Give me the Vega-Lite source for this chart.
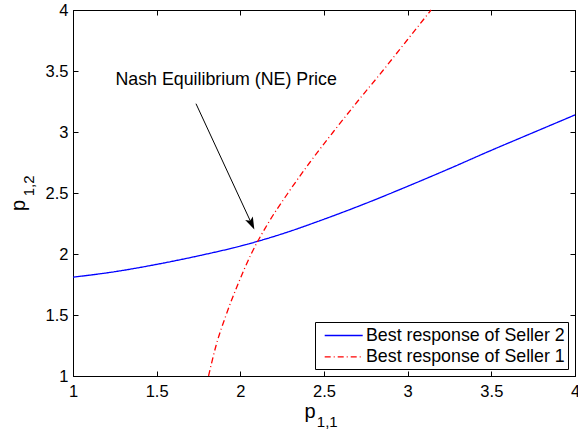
{
  "$schema": "https://vega.github.io/schema/vega-lite/v6.json",
  "width": 502,
  "height": 366,
  "autosize": {"type": "none"},
  "padding": {"left": 73, "top": 10, "right": 3, "bottom": 63},
  "background": "white",
  "config": {
    "font": "Liberation Sans",
    "view": {"stroke": "black", "strokeWidth": 1},
    "axis": {
      "grid": false,
      "domainColor": "black",
      "tickColor": "black",
      "labelColor": "black",
      "labelFontSize": 16.5,
      "labelFont": "Liberation Sans",
      "tickSize": -5,
      "labelFlush": false,
      "labelOverlap": false,
      "domainWidth": 1,
      "tickWidth": 1
    }
  },
  "datasets": {
    "curves": [
      {"series": "Best response of Seller 2", "x": 1.0, "y": 1.81, "k": 0},
      {"series": "Best response of Seller 2", "x": 1.25, "y": 1.855, "k": 1},
      {"series": "Best response of Seller 2", "x": 1.5, "y": 1.915, "k": 2},
      {"series": "Best response of Seller 2", "x": 1.75, "y": 1.985, "k": 3},
      {"series": "Best response of Seller 2", "x": 2.0, "y": 2.065, "k": 4},
      {"series": "Best response of Seller 2", "x": 2.25, "y": 2.165, "k": 5},
      {"series": "Best response of Seller 2", "x": 2.5, "y": 2.285, "k": 6},
      {"series": "Best response of Seller 2", "x": 2.75, "y": 2.415, "k": 7},
      {"series": "Best response of Seller 2", "x": 3.0, "y": 2.555, "k": 8},
      {"series": "Best response of Seller 2", "x": 3.25, "y": 2.7, "k": 9},
      {"series": "Best response of Seller 2", "x": 3.5, "y": 2.85, "k": 10},
      {"series": "Best response of Seller 2", "x": 3.75, "y": 2.995, "k": 11},
      {"series": "Best response of Seller 2", "x": 4.0, "y": 3.14, "k": 12},
      {"series": "Best response of Seller 1", "x": 1.81, "y": 1.0, "k": 0},
      {"series": "Best response of Seller 1", "x": 1.855, "y": 1.25, "k": 1},
      {"series": "Best response of Seller 1", "x": 1.915, "y": 1.5, "k": 2},
      {"series": "Best response of Seller 1", "x": 1.985, "y": 1.75, "k": 3},
      {"series": "Best response of Seller 1", "x": 2.065, "y": 2.0, "k": 4},
      {"series": "Best response of Seller 1", "x": 2.165, "y": 2.25, "k": 5},
      {"series": "Best response of Seller 1", "x": 2.285, "y": 2.5, "k": 6},
      {"series": "Best response of Seller 1", "x": 2.415, "y": 2.75, "k": 7},
      {"series": "Best response of Seller 1", "x": 2.555, "y": 3.0, "k": 8},
      {"series": "Best response of Seller 1", "x": 2.7, "y": 3.25, "k": 9},
      {"series": "Best response of Seller 1", "x": 2.85, "y": 3.5, "k": 10},
      {"series": "Best response of Seller 1", "x": 2.995, "y": 3.75, "k": 11},
      {"series": "Best response of Seller 1", "x": 3.14, "y": 4.0, "k": 12}
    ]
  },
  "layer": [
    {
      "data": {"name": "curves"},
      "mark": {"type": "line", "strokeWidth": 1.3, "interpolate": "monotone"},
      "encoding": {
        "x": {"field": "x", "type": "quantitative", "scale": {"domain": [1, 4], "nice": false, "zero": false},
              "axis": {"orient": "bottom", "title": null, "values": [1, 1.5, 2, 2.5, 3, 3.5, 4], "format": "~g", "labelPadding": 12}},
        "y": {"field": "y", "type": "quantitative", "scale": {"domain": [1, 4], "nice": false, "zero": false},
              "axis": {"orient": "left", "title": null, "values": [1, 1.5, 2, 2.5, 3, 3.5, 4], "format": "~g", "labelPadding": 10}},
        "order": {"field": "k"},
        "color": {"field": "series", "type": "nominal",
                  "scale": {"domain": ["Best response of Seller 2", "Best response of Seller 1"], "range": ["#0000ff", "#ff0000"]},
                  "legend": {"orient": "bottom-right", "offset": 7, "title": null, "fillColor": "white", "strokeColor": "black", "padding": 3, "labelFontSize": 17.8, "labelFont": "Liberation Sans", "labelColor": "black", "labelLimit": 400, "symbolType": "M-0.4,0L3.6,0", "symbolSize": 361, "symbolStrokeWidth": 1.3, "labelOffset": 27, "rowPadding": 1.4, "cornerRadius": 0}},
        "strokeDash": {"field": "series", "type": "nominal",
                  "scale": {"domain": ["Best response of Seller 2", "Best response of Seller 1"], "range": [[1, 0], [6, 3, 1, 3]]},
                  "legend": {"orient": "bottom-right", "offset": 7, "title": null, "fillColor": "white", "strokeColor": "black", "padding": 3, "labelFontSize": 17.8, "labelFont": "Liberation Sans", "labelColor": "black", "labelLimit": 400, "symbolType": "M-0.4,0L3.6,0", "symbolSize": 361, "symbolStrokeWidth": 1.3, "labelOffset": 27, "rowPadding": 1.4, "cornerRadius": 0}}
      }
    },
    {
      "data": {"name": "curves"},
      "mark": {"type": "point", "opacity": 0},
      "encoding": {
        "x": {"field": "x", "type": "quantitative", "scale": {"domain": [1, 4], "nice": false, "zero": false},
              "axis": {"orient": "top", "title": null, "labels": false, "domain": false, "values": [1, 1.5, 2, 2.5, 3, 3.5, 4]}},
        "y": {"field": "y", "type": "quantitative", "scale": {"domain": [1, 4], "nice": false, "zero": false},
              "axis": {"orient": "right", "title": null, "labels": false, "domain": false, "values": [1, 1.5, 2, 2.5, 3, 3.5, 4]}}
      }
    },
    {
      "data": {"values": [{}]},
      "mark": {"type": "rule", "color": "black", "strokeWidth": 1},
      "encoding": {
        "x": {"datum": 1.735, "type": "quantitative", "scale": {"domain": [1, 4], "nice": false, "zero": false}, "axis": null},
        "y": {"datum": 3.232, "type": "quantitative", "scale": {"domain": [1, 4], "nice": false, "zero": false}, "axis": null},
        "x2": {"datum": 2.066},
        "y2": {"datum": 2.252}
      }
    },
    {
      "data": {"values": [{}]},
      "mark": {"type": "point", "shape": "M0,1L-0.6,-0.8L0,-0.4L0.6,-0.8Z", "filled": true, "color": "black", "opacity": 1, "size": 196, "angle": 335},
      "encoding": {
        "x": {"datum": 2.066, "type": "quantitative", "scale": {"domain": [1, 4], "nice": false, "zero": false}, "axis": null},
        "y": {"datum": 2.252, "type": "quantitative", "scale": {"domain": [1, 4], "nice": false, "zero": false}, "axis": null}
      }
    },
    {
      "data": {"values": [{}]},
      "mark": {"type": "text", "text": "Nash Equilibrium (NE) Price", "align": "left", "baseline": "alphabetic", "fontSize": 17.8, "font": "Liberation Sans", "color": "black"},
      "encoding": {
        "x": {"datum": 1.254, "type": "quantitative", "scale": {"domain": [1, 4], "nice": false, "zero": false}, "axis": null},
        "y": {"datum": 3.388, "type": "quantitative", "scale": {"domain": [1, 4], "nice": false, "zero": false}, "axis": null}
      }
    },
    {
      "data": {"values": [{}]},
      "mark": {"type": "text", "text": "p", "align": "left", "baseline": "alphabetic", "fontSize": 20, "font": "Liberation Sans", "color": "black"},
      "encoding": {
        "x": {"datum": 2.383, "type": "quantitative", "scale": {"domain": [1, 4], "nice": false, "zero": false}, "axis": null},
        "y": {"datum": 0.656, "type": "quantitative", "scale": {"domain": [1, 4], "nice": false, "zero": false}, "axis": null}
      }
    },
    {
      "data": {"values": [{}]},
      "mark": {"type": "text", "text": "1,1", "align": "left", "baseline": "alphabetic", "fontSize": 15, "font": "Liberation Sans", "color": "black"},
      "encoding": {
        "x": {"datum": 2.457, "type": "quantitative", "scale": {"domain": [1, 4], "nice": false, "zero": false}, "axis": null},
        "y": {"datum": 0.579, "type": "quantitative", "scale": {"domain": [1, 4], "nice": false, "zero": false}, "axis": null}
      }
    },
    {
      "data": {"values": [{}]},
      "mark": {"type": "text", "text": "p", "align": "left", "baseline": "alphabetic", "angle": 270, "fontSize": 20, "font": "Liberation Sans", "color": "black"},
      "encoding": {
        "x": {"datum": 0.711, "type": "quantitative", "scale": {"domain": [1, 4], "nice": false, "zero": false}, "axis": null},
        "y": {"datum": 2.352, "type": "quantitative", "scale": {"domain": [1, 4], "nice": false, "zero": false}, "axis": null}
      }
    },
    {
      "data": {"values": [{}]},
      "mark": {"type": "text", "text": "1,2", "align": "left", "baseline": "alphabetic", "angle": 270, "fontSize": 15, "font": "Liberation Sans", "color": "black"},
      "encoding": {
        "x": {"datum": 0.767, "type": "quantitative", "scale": {"domain": [1, 4], "nice": false, "zero": false}, "axis": null},
        "y": {"datum": 2.473, "type": "quantitative", "scale": {"domain": [1, 4], "nice": false, "zero": false}, "axis": null}
      }
    }
  ],
  "resolve": {"axis": {"x": "independent", "y": "independent"}}
}
